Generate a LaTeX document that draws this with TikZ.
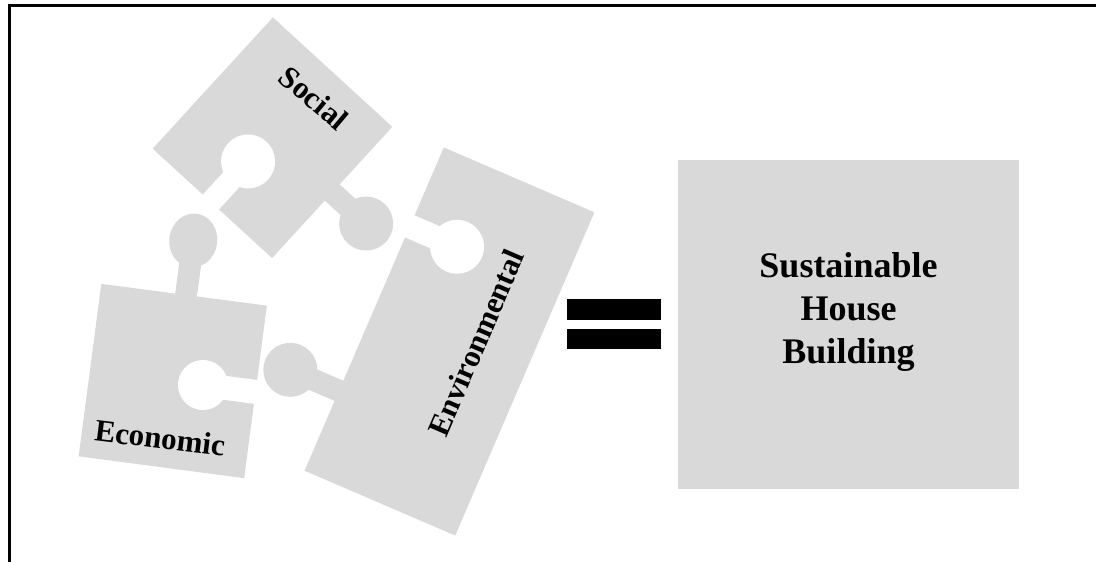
\documentclass[tikz,border=0pt]{standalone}
\usepackage{fontspec}
\setmainfont{Liberation Serif}
\definecolor{piece}{RGB}{217,217,217}
\begin{document}
\begin{tikzpicture}[x=1pt,y=1pt,
  piecefill/.style={fill=piece},
  holefill/.style={fill=white},
  plabel/.style={font=\fontsize{31}{31}\selectfont\bfseries, inner sep=0pt},
  blabel/.style={font=\fontsize{36}{36}\selectfont\bfseries, inner sep=0pt, anchor=base}]
\useasboundingbox (0,0) rectangle (1096,562);

% frame
\draw[line width=3pt] (9.5,0) -- (9.5,556) -- (1096,556);

% Environmental piece
\begin{scope}[shift={(449.5,220.5)}, rotate=-23.3]
  \fill[piecefill] (-82,-176) rectangle (82,176);
  \fill[piecefill] (-113,-100) rectangle (-81,-78);
  \fill[piecefill] (-135,-89) circle (27);
  \fill[holefill] (-83,78) rectangle (-50,102);
  \fill[holefill] (-30.5,90) circle (27);
\end{scope}

% Economic piece
\begin{scope}[shift={(172.75,181)}, rotate=-7.5]
  \fill[piecefill] (-83.5,-87) rectangle (83.5,87);
  \fill[piecefill] (-9,86) rectangle (13,120);
  \fill[piecefill] (2,142) ellipse [x radius=24, y radius=27];
  \fill[holefill] (45,-12) rectangle (84.5,12);
  \fill[holefill] (30.5,0) circle (25);
\end{scope}

% Social piece
\begin{scope}[shift={(272.5,424.25)}, rotate=-42.5]
  \fill[piecefill] (-81,-89) rectangle (81,89);
  \fill[piecefill] (80,-11) rectangle (105,11);
  \fill[piecefill] (127,0) circle (27);
  \fill[holefill] (-13,-90) rectangle (9,-55);
  \fill[holefill] (-2,-34) circle (27);
\end{scope}

% piece labels
\node[plabel, rotate=-40] (social) at (314,464) {Social};
\node[plabel, rotate=-7] (economic) at (160,124) {Economic};
\node[plabel, rotate=66.7] (environmental) at (476,219) {Environmental};

% equals sign
\fill[black] (567,242) rectangle (661,263);
\fill[black] (567,213) rectangle (661,233);

% result box
\node[fill=piece, minimum width=341pt, minimum height=329pt, inner sep=0pt, anchor=south west] (house) at (678,73) {};
\node[blabel] (l1) at (848.5,284) {Sustainable};
\node[blabel] (l2) at (848.5,241) {House};
\node[blabel] (l3) at (848.5,198) {Building};
\end{tikzpicture}
\end{document}
